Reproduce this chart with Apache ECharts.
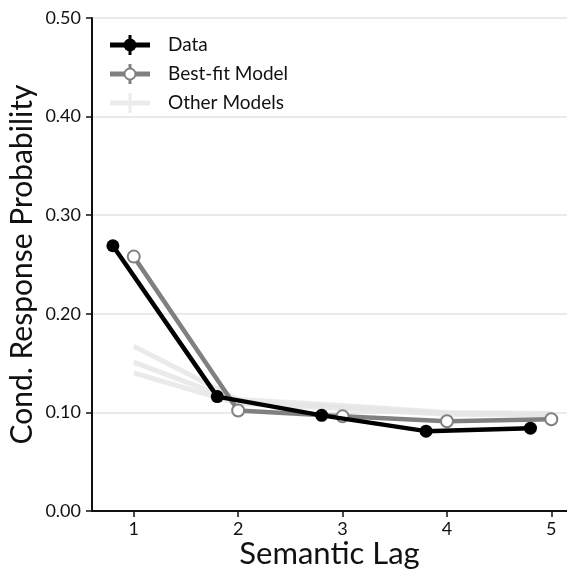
<!DOCTYPE html>
<html><head><meta charset="utf-8">
<script src="https://cdn.jsdelivr.net/npm/echarts@6/dist/echarts.min.js"></script>
<style>html,body{margin:0;padding:0;background:#fff}#c{width:567px;height:571px}</style>
</head><body><div id="c"></div>
<script>
const lags = [1, 2, 3, 4, 5];
const dataOffset = -0.2;
const dataValues = [0.269, 0.116, 0.097, 0.081, 0.084];
const bestFitValues = [0.258, 0.102, 0.096, 0.091, 0.093];
const otherModel1 = [0.167, 0.113, 0.107, 0.100, 0.099];
const otherModel2 = [0.151, 0.111, 0.105, 0.099, 0.098];
const otherModel3 = [0.140, 0.109, 0.104, 0.098, 0.097];
const legendNames = ['Data', 'Best-fit Model', 'Other Models'];

const FONT = 'Lato';
const chart = echarts.init(document.getElementById('c'), null, {renderer: 'canvas'});
const pairs = (xs, ys, off) => xs.map((x, i) => [x + (off || 0), ys[i]]);
const otherSeries = [otherModel1, otherModel2, otherModel3].map(v => ({
  type: 'line', data: pairs(lags, v), symbol: 'none', z: 1,
  lineStyle: {color: '#e6e6e6', width: 5, opacity: 0.85}
}));

const lg = [];
const legendY = [45, 74, 103];
const lcol = ['#000', '#808080', '#ebebeb'];
legendY.forEach((y, i) => {
  lg.push({type: 'line', shape: {x1: 110, y1: y, x2: 150, y2: y}, style: {stroke: lcol[i], lineWidth: 5}});
  lg.push({type: 'line', shape: {x1: 130, y1: y - 10, x2: 130, y2: y + 10}, style: {stroke: lcol[i], lineWidth: 3}});
  if (i === 0) lg.push({type: 'circle', shape: {cx: 130, cy: y, r: 6.5}, style: {fill: '#000'}});
  if (i === 1) lg.push({type: 'circle', shape: {cx: 130, cy: y, r: 5.5}, style: {fill: '#fff', stroke: '#808080', lineWidth: 2}});
  lg.push({type: 'text', x: 168, y: y, style: {text: legendNames[i], fill: '#111', font: '19px ' + FONT, textVerticalAlign: 'middle'}});
});

chart.setOption({
  animation: false,
  grid: {left: 92, right: 0, top: 18, bottom: 60, containLabel: false, outerBoundsMode: 'none'},
  xAxis: {
    type: 'value', min: 0.6, max: 5.15,
    name: 'Semantic Lag', nameLocation: 'middle', nameGap: 27, nameMoveOverlap: false,
    nameTextStyle: {fontFamily: FONT, fontSize: 31, color: '#111'},
    axisLine: {onZero: false, lineStyle: {color: '#111', width: 2}},
    axisTick: {customValues: lags, length: 6, lineStyle: {color: '#111', width: 1.5}},
    axisLabel: {customValues: lags, fontFamily: FONT, fontSize: 18, color: '#111', margin: 9},
    splitLine: {show: false}
  },
  yAxis: {
    type: 'value', min: 0, max: 0.5, interval: 0.1,
    name: 'Cond. Response Probability', nameLocation: 'middle', nameGap: 55, nameMoveOverlap: false,
    nameTextStyle: {fontFamily: FONT, fontSize: 30, color: '#111'},
    axisLine: {show: true, lineStyle: {color: '#111', width: 2}},
    axisTick: {show: true, length: 6, lineStyle: {color: '#111', width: 1.5}},
    axisLabel: {fontFamily: FONT, fontSize: 18, color: '#111', margin: 11, formatter: v => v.toFixed(2)},
    splitLine: {show: true, lineStyle: {color: '#e3e3e3', width: 1.5}}
  },
  series: otherSeries.concat([
    {type: 'line', data: pairs(lags, bestFitValues), z: 3, symbol: 'circle', symbolSize: 12,
      lineStyle: {color: '#808080', width: 4.5},
      itemStyle: {color: '#fff', borderColor: '#808080', borderWidth: 2}},
    {type: 'line', data: pairs(lags, dataValues, dataOffset), z: 4, symbol: 'circle', symbolSize: 13,
      lineStyle: {color: '#000', width: 4.5},
      itemStyle: {color: '#000'}}
  ]),
  graphic: lg
});
</script></body></html>
